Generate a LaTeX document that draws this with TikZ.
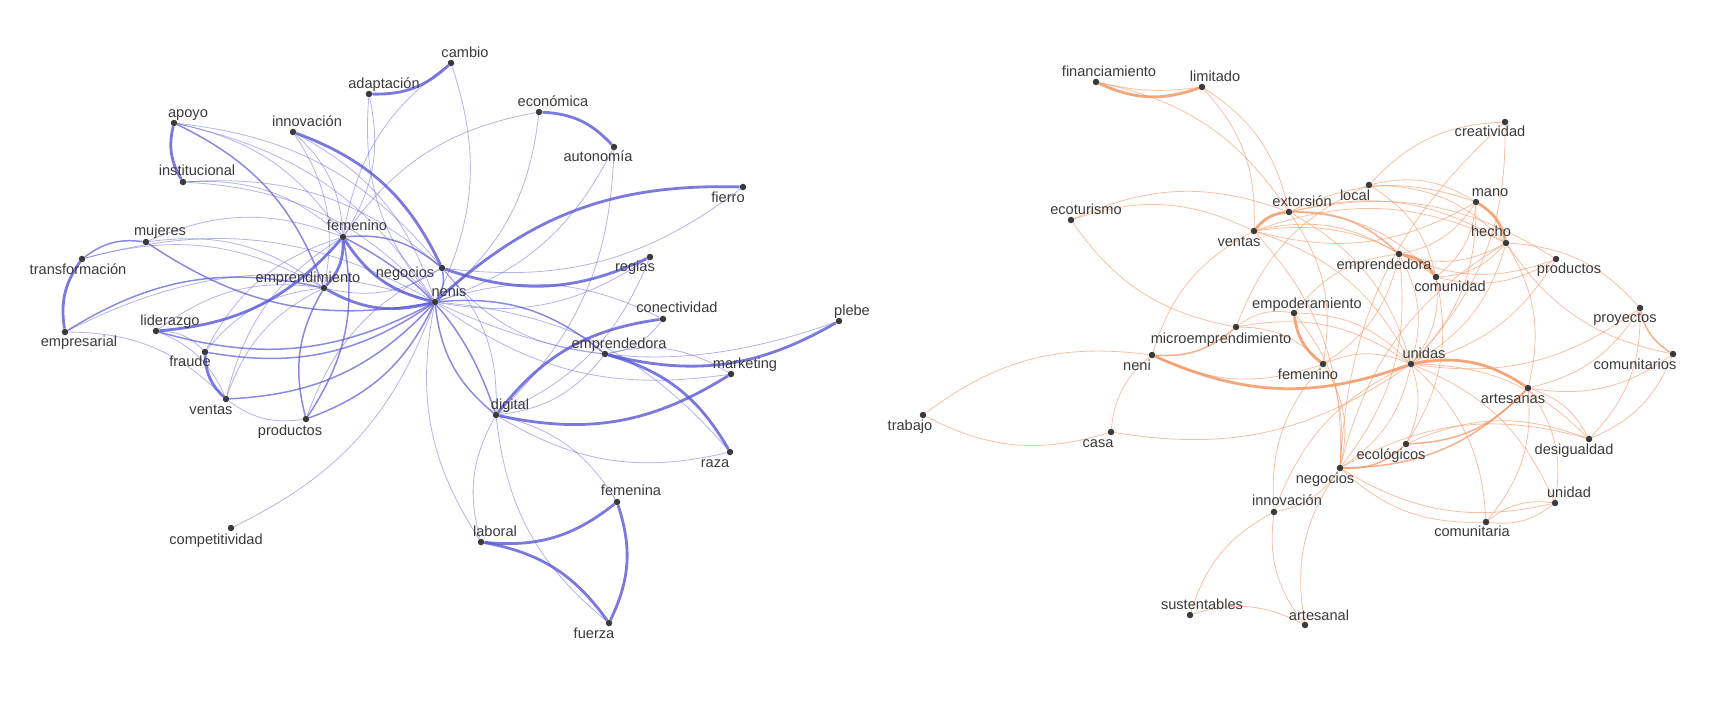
\documentclass[tikz,border=0pt]{standalone}
\usepackage{fontspec}
\setmainfont{Liberation Sans}
\usetikzlibrary{backgrounds}

\definecolor{netblue}{RGB}{88,88,214}
\definecolor{netorange}{RGB}{244,150,100}
\definecolor{dotgray}{RGB}{58,58,58}

\begin{document}
\begin{tikzpicture}[x=1pt,y=-1pt,
    dot/.style={circle,fill=dotgray,inner sep=0pt,minimum size=6.5pt},
    word/.style={font=\fontsize{14.6}{16}\selectfont,text=dotgray,inner sep=0pt,text height=1.5ex,text depth=.25ex},
    bt/.style={draw=netblue,line width=0.8pt,draw opacity=0.45,bend left=22},
    bm/.style={draw=netblue,line width=1.5pt,draw opacity=0.7,bend left=22},
    bk/.style={draw=netblue,line width=2.8pt,draw opacity=0.8,bend left=22},
    ot/.style={draw=netorange,line width=0.8pt,draw opacity=0.6,bend left=22},
    om/.style={draw=netorange,line width=1.5pt,draw opacity=0.75,bend left=22},
    ok/.style={draw=netorange,line width=2.8pt,draw opacity=0.85,bend left=22}]
\useasboundingbox (0,0) rectangle (1726,705);

% left network
\node[dot] (l-cam) at (451,63) {};   \node[word] (l-cam-t) at (465,54) {cambio};
\node[dot] (l-ada) at (369,94) {};   \node[word] (l-ada-t) at (384,85) {adaptación};
\node[dot] (l-apo) at (174,123) {};  \node[word] (l-apo-t) at (188,114) {apoyo};
\node[dot] (l-inn) at (293,132) {};  \node[word] (l-inn-t) at (307,123) {innovación};
\node[dot] (l-ins) at (183,182) {};  \node[word] (l-ins-t) at (197,172) {institucional};
\node[dot] (l-fem) at (343,237) {};  \node[word] (l-fem-t) at (357,227) {femenino};
\node[dot] (l-muj) at (146,242) {};  \node[word] (l-muj-t) at (160,232) {mujeres};
\node[dot] (l-tra) at (82,259) {};   \node[word] (l-tra-t) at (78,271) {transformación};
\node[dot] (l-neg) at (442,268) {};  \node[word] (l-neg-t) at (405,274) {negocios};
\node[dot] (l-emp) at (324,288) {};  \node[word] (l-emp-t) at (308,279) {emprendimiento};
\node[dot] (l-nen) at (435,302) {};  \node[word] (l-nen-t) at (449,293) {nenis};
\node[dot] (l-lid) at (156,331) {};  \node[word] (l-lid-t) at (170,322) {liderazgo};
\node[dot] (l-ems) at (65,332) {};   \node[word] (l-ems-t) at (79,343) {empresarial};
\node[dot] (l-fra) at (205,352) {};  \node[word] (l-fra-t) at (190,363) {fraude};
\node[dot] (l-ven) at (226,399) {};  \node[word] (l-ven-t) at (211,411) {ventas};
\node[dot] (l-pro) at (306,419) {};  \node[word] (l-pro-t) at (290,432) {productos};
\node[dot] (l-com) at (231,528) {};  \node[word] (l-com-t) at (216,541) {competitividad};
\node[dot] (l-eco) at (539,112) {};  \node[word] (l-eco-t) at (553,103) {económica};
\node[dot] (l-aut) at (614,147) {};  \node[word] (l-aut-t) at (598,158) {autonomía};
\node[dot] (l-fie) at (743,187) {};  \node[word] (l-fie-t) at (728,199) {fierro};
\node[dot] (l-reg) at (650,257) {};  \node[word] (l-reg-t) at (635,268) {regias};
\node[dot] (l-con) at (663,319) {};  \node[word] (l-con-t) at (677,309) {conectividad};
\node[dot] (l-ple) at (839,321) {};  \node[word] (l-ple-t) at (852,312) {plebe};
\node[dot] (l-emd) at (605,354) {};  \node[word] (l-emd-t) at (619,345) {emprendedora};
\node[dot] (l-mar) at (731,374) {};  \node[word] (l-mar-t) at (745,365) {marketing};
\node[dot] (l-dig) at (496,415) {};  \node[word] (l-dig-t) at (510,406) {digital};
\node[dot] (l-raz) at (730,452) {};  \node[word] (l-raz-t) at (715,464) {raza};
\node[dot] (l-fmn) at (617,502) {};  \node[word] (l-fmn-t) at (631,492) {femenina};
\node[dot] (l-lab) at (481,542) {};  \node[word] (l-lab-t) at (495,533) {laboral};
\node[dot] (l-fue) at (609,623) {};  \node[word] (l-fue-t) at (594,635) {fuerza};

% right network
\node[dot] (r-fin) at (1096,82) {};  \node[word] (r-fin-t) at (1109,73) {financiamiento};
\node[dot] (r-lim) at (1202,87) {};  \node[word] (r-lim-t) at (1215,78) {limitado};
\node[dot] (r-eco) at (1071,220) {}; \node[word] (r-eco-t) at (1086,211) {ecoturismo};
\node[dot] (r-ven) at (1254,231) {}; \node[word] (r-ven-t) at (1239,243) {ventas};
\node[dot] (r-ext) at (1289,212) {}; \node[word] (r-ext-t) at (1302,203) {extorsión};
\node[dot] (r-loc) at (1369,185) {}; \node[word] (r-loc-t) at (1355,197) {local};
\node[dot] (r-cre) at (1505,122) {}; \node[word] (r-cre-t) at (1490,133) {creatividad};
\node[dot] (r-man) at (1476,202) {}; \node[word] (r-man-t) at (1490,193) {mano};
\node[dot] (r-hec) at (1506,243) {}; \node[word] (r-hec-t) at (1491,233) {hecho};
\node[dot] (r-emd) at (1399,254) {}; \node[word] (r-emd-t) at (1384,266) {emprendedora};
\node[dot] (r-cmd) at (1436,277) {}; \node[word] (r-cmd-t) at (1450,288) {comunidad};
\node[dot] (r-pro) at (1556,259) {}; \node[word] (r-pro-t) at (1569,270) {productos};
\node[dot] (r-emp) at (1294,313) {}; \node[word] (r-emp-t) at (1307,305) {empoderamiento};
\node[dot] (r-mic) at (1236,327) {}; \node[word] (r-mic-t) at (1221,340) {microemprendimiento};
\node[dot] (r-nen) at (1152,355) {}; \node[word] (r-nen-t) at (1137,367) {neni};
\node[dot] (r-fem) at (1323,364) {}; \node[word] (r-fem-t) at (1308,376) {femenino};
\node[dot] (r-uni) at (1411,364) {}; \node[word] (r-uni-t) at (1424,355) {unidas};
\node[dot] (r-art) at (1528,388) {}; \node[word] (r-art-t) at (1513,400) {artesanas};
\node[dot] (r-pry) at (1640,308) {}; \node[word] (r-pry-t) at (1625,319) {proyectos};
\node[dot] (r-cms) at (1673,354) {}; \node[word] (r-cms-t) at (1635,366) {comunitarios};
\node[dot] (r-des) at (1589,439) {}; \node[word] (r-des-t) at (1574,451) {desigualdad};
\node[dot] (r-ecl) at (1406,444) {}; \node[word] (r-ecl-t) at (1391,456) {ecológicos};
\node[dot] (r-neg) at (1340,468) {}; \node[word] (r-neg-t) at (1325,480) {negocios};
\node[dot] (r-inn) at (1274,512) {}; \node[word] (r-inn-t) at (1287,502) {innovación};
\node[dot] (r-und) at (1555,503) {}; \node[word] (r-und-t) at (1569,494) {unidad};
\node[dot] (r-cmt) at (1486,522) {}; \node[word] (r-cmt-t) at (1472,533) {comunitaria};
\node[dot] (r-sus) at (1190,615) {}; \node[word] (r-sus-t) at (1202,606) {sustentables};
\node[dot] (r-ars) at (1305,625) {}; \node[word] (r-ars-t) at (1319,617) {artesanal};
\node[dot] (r-tra) at (923,415) {};  \node[word] (r-tra-t) at (910,427) {trabajo};
\node[dot] (r-cas) at (1111,432) {}; \node[word] (r-cas-t) at (1098,444) {casa};

\begin{scope}[on background layer]
% left edges
\foreach \a/\b in {l-cam/l-nen, l-ada/l-fem, l-nen/l-ada, l-fem/l-cam, l-inn/l-fem, l-inn/l-emp,
    l-inn/l-nen, l-apo/l-nen, l-apo/l-fem, l-apo/l-neg, l-ins/l-nen, l-ins/l-fem, l-ins/l-neg,
    l-muj/l-fem, l-muj/l-emp, l-tra/l-nen, l-tra/l-emp, l-ems/l-ven, l-ems/l-nen, l-lid/l-fra,
    l-lid/l-ven, l-lid/l-emp, l-fra/l-fem, l-fra/l-emp, l-ven/l-fem, l-ven/l-emp, l-pro/l-ven,
    l-nen/l-com, l-pro/l-neg, l-eco/l-nen, l-fem/l-eco, l-aut/l-nen, l-aut/l-dig, l-fie/l-neg,
    l-reg/l-nen, l-reg/l-dig, l-nen/l-con, l-con/l-emd, l-ple/l-nen, l-mar/l-nen, l-emd/l-mar,
    l-raz/l-dig, l-nen/l-raz, l-dig/l-fmn, l-lab/l-dig, l-fue/l-dig, l-lab/l-nen, l-emd/l-dig,
    l-neg/l-emp, l-neg/l-dig, l-emd/l-neg}
  \draw[bt] (\a) to (\b);
\foreach \a/\b in {l-nen/l-muj, l-tra/l-muj, l-apo/l-emp, l-ems/l-emp, l-pro/l-emp, l-nen/l-pro,
    l-fem/l-pro, l-nen/l-lid, l-nen/l-fra, l-nen/l-ven, l-dig/l-nen, l-nen/l-emd, l-fem/l-neg,
    l-neg/l-nen, l-fem/l-dig}
  \draw[bm] (\a) to (\b);
\foreach \a/\b in {l-cam/l-ada, l-ins/l-apo, l-inn/l-neg, l-ems/l-tra, l-fem/l-lid, l-reg/l-neg,
    l-eco/l-aut, l-dig/l-con, l-ple/l-emd, l-mar/l-dig, l-emd/l-raz, l-fmn/l-lab, l-lab/l-fue,
    l-fmn/l-fue, l-ven/l-fra, l-nen/l-fie, l-nen/l-fem, l-nen/l-emp, l-fem/l-emp}
  \draw[bk] (\a) to (\b);

% right edges
\foreach \a/\b in {r-fin/r-ext, r-lim/r-ven, r-lim/r-ext, r-eco/r-ext, r-eco/r-ven, r-mic/r-eco,
    r-nen/r-ven, r-ext/r-cmd, r-ext/r-hec, r-ext/r-man, r-ext/r-pro, r-ext/r-uni, r-ven/r-emd,
    r-ven/r-cmd, r-ven/r-hec, r-ven/r-uni, r-ven/r-neg, r-loc/r-cre, r-loc/r-man, r-loc/r-hec,
    r-loc/r-cmd, r-mic/r-loc, r-cre/r-uni, r-neg/r-cre, r-man/r-emd, r-man/r-cmd, r-man/r-ven,
    r-man/r-uni, r-hec/r-emd, r-hec/r-cmd, r-hec/r-pry, r-hec/r-uni, r-neg/r-hec, r-hec/r-art,
    r-pro/r-emd, r-pro/r-cmd, r-pro/r-uni, r-pry/r-art, r-pry/r-uni, r-pry/r-des, r-cms/r-art,
    r-cms/r-des, r-cms/r-hec, r-emp/r-uni, r-emp/r-emd, r-mic/r-emp, r-mic/r-fem, r-mic/r-uni,
    r-fem/r-nen, r-cas/r-nen, r-tra/r-nen, r-cas/r-tra, r-uni/r-cas, r-fem/r-uni, r-uni/r-ecl,
    r-uni/r-neg, r-uni/r-cmt, r-uni/r-und, r-uni/r-des, r-inn/r-uni, r-art/r-des, r-art/r-und,
    r-art/r-cmt, r-ecl/r-des, r-neg/r-des, r-cmt/r-neg, r-und/r-neg, r-und/r-cmt, r-cmt/r-und,
    r-neg/r-inn, r-ars/r-neg, r-sus/r-inn, r-ars/r-inn, r-inn/r-fem, r-sus/r-ars, r-cmd/r-uni,
    r-emd/r-uni, r-emd/r-neg, r-emd/r-fem, r-ext/r-fem, r-cmd/r-ecl, r-fem/r-neg, r-emp/r-neg}
  \draw[ot] (\a) to (\b);
\draw[ot,bend left=10] (r-lim) to (r-fin);
\foreach \a/\b in {r-mic/r-nen, r-art/r-ecl, r-art/r-neg, r-ecl/r-neg, r-ext/r-emd, r-cms/r-pry}
  \draw[om] (\a) to (\b);
\foreach \a/\b in {r-lim/r-fin, r-ven/r-ext, r-man/r-hec, r-emd/r-cmd, r-fem/r-emp, r-uni/r-nen,
    r-uni/r-art}
  \draw[ok] (\a) to (\b);
\end{scope}
\end{tikzpicture}
\end{document}
